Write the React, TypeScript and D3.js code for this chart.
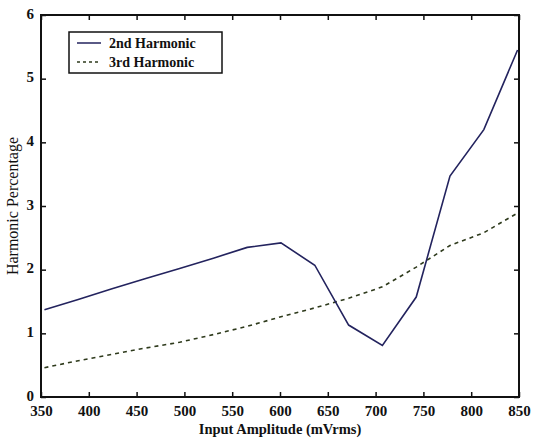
import React, { useRef, useEffect } from "react";
import * as d3 from "d3";

// input amplitude in mVrms (50 mV peak steps / sqrt 2)
const amplitude = [353.6, 388.9, 424.3, 459.6, 495.0, 530.3, 565.7, 601.0, 636.4, 671.8, 707.1, 742.5, 777.8, 813.2, 848.5];
const second = [1.37, 1.53, 1.70, 1.86, 2.02, 2.18, 2.35, 2.42, 2.07, 1.13, 0.81, 1.57, 3.47, 4.2, 5.45];
const third = [0.46, 0.57, 0.67, 0.77, 0.86, 0.98, 1.11, 1.26, 1.40, 1.55, 1.73, 2.04, 2.38, 2.58, 2.89];
const xTicks = [350, 400, 450, 500, 550, 600, 650, 700, 750, 800, 850];
const yTicks = [0, 1, 2, 3, 4, 5, 6];

const W = 533;
const H = 441;
const margin = { top: 15, right: 14, bottom: 44, left: 41 };
const FONT = "Liberation Serif, Times New Roman, DejaVu Serif, serif";

export default function App() {
  const svgRef = useRef<SVGSVGElement>(null);

  useEffect(() => {
    const svg = d3.select(svgRef.current);
    svg.selectAll("*").remove();

    const x = d3.scaleLinear().domain([350, 850]).range([margin.left, W - margin.right]);
    const y = d3.scaleLinear().domain([0, 6]).range([H - margin.bottom, margin.top]);

    svg.append("rect").attr("width", W).attr("height", H).attr("fill", "#fff");

    // ticks on all four sides, pointing inwards
    const bottom = svg.append("g").attr("transform", `translate(0,${y(0)})`)
      .call(d3.axisBottom(x).tickValues(xTicks).tickFormat(d3.format("d")).tickSizeInner(-5).tickSizeOuter(0).tickPadding(8));
    svg.append("g").attr("transform", `translate(0,${y(6)})`)
      .call(d3.axisTop(x).tickValues(xTicks).tickSizeInner(-5).tickSizeOuter(0).tickFormat(() => ""));
    const left = svg.append("g").attr("transform", `translate(${x(350)},0)`)
      .call(d3.axisLeft(y).tickValues(yTicks).tickFormat(d3.format("d")).tickSizeInner(-5).tickSizeOuter(0).tickPadding(7));
    svg.append("g").attr("transform", `translate(${x(850)},0)`)
      .call(d3.axisRight(y).tickValues(yTicks).tickSizeInner(-5).tickSizeOuter(0).tickFormat(() => ""));

    svg.selectAll(".domain").remove();
    svg.selectAll(".tick line").attr("stroke", "#111").attr("stroke-width", 1.5);
    [bottom, left].forEach((g) =>
      g.selectAll("text").attr("font-family", FONT).attr("font-size", 15).attr("font-weight", "bold").attr("fill", "#111")
    );
    left.selectAll("text").attr("dy", "0.22em");

    svg.append("rect")
      .attr("x", x(350)).attr("y", y(6))
      .attr("width", x(850) - x(350)).attr("height", y(0) - y(6))
      .attr("fill", "none").attr("stroke", "#111").attr("stroke-width", 2);

    const line = d3.line<number>().x((_, i) => x(amplitude[i])).y((d) => y(d));

    svg.append("path").datum(third).attr("d", line)
      .attr("fill", "none").attr("stroke", "#2e3a1c").attr("stroke-width", 1.6)
      .attr("stroke-dasharray", "4,4");
    svg.append("path").datum(second).attr("d", line)
      .attr("fill", "none").attr("stroke", "#23235e").attr("stroke-width", 1.6);

    // legend
    const lg = svg.append("g").attr("transform", "translate(69,32)");
    lg.append("rect").attr("width", 153).attr("height", 41)
      .attr("fill", "#fff").attr("stroke", "#111").attr("stroke-width", 1.5);
    const items = [
      { label: "2nd Harmonic", color: "#23235e", dash: null },
      { label: "3rd Harmonic", color: "#2e3a1c", dash: "3,3" },
    ];
    items.forEach((it, i) => {
      const yy = 11 + i * 19;
      lg.append("line").attr("x1", 8).attr("x2", 32).attr("y1", yy).attr("y2", yy)
        .attr("stroke", it.color).attr("stroke-width", 1.5)
        .attr("stroke-dasharray", it.dash);
      lg.append("text").attr("x", 40).attr("y", yy + 4.5)
        .attr("font-family", FONT).attr("font-size", 14).attr("font-weight", "bold")
        .attr("fill", "#111").text(it.label);
    });

    svg.append("text")
      .attr("x", (x(350) + x(850)) / 2).attr("y", 434)
      .attr("text-anchor", "middle").attr("font-family", FONT)
      .attr("font-size", 14.5).attr("font-weight", "bold").attr("fill", "#111")
      .text("Input Amplitude (mVrms)");

    svg.append("text")
      .attr("transform", `translate(18,${(y(0) + y(6)) / 2}) rotate(-90)`)
      .attr("text-anchor", "middle").attr("font-family", FONT)
      .attr("font-size", 16).attr("fill", "#111")
      .text("Harmonic Percentage");
  }, []);

  return (
    <svg ref={svgRef} width={W} height={H}
      style={{ position: "absolute", left: 0, top: 0, display: "block" }} />
  );
}
